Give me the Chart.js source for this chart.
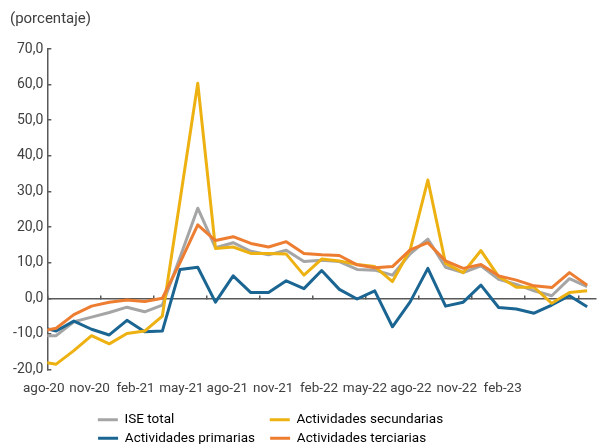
<!DOCTYPE html>
<html>
<head>
<meta charset="utf-8">
<script src="https://cdn.jsdelivr.net/npm/chart.js@4"></script>
<style>
  html, body { margin: 0; padding: 0; background: #fff; }
</style>
</head>
<body>
<canvas id="chart" width="600" height="444"></canvas>
<script>
// meses de la serie (jul-20 queda fuera del eje, solo se ve el trazo cortado)
const months = [
  'jul-20', 'ago-20', 'sep-20', 'oct-20', 'nov-20', 'dic-20', 'ene-21', 'feb-21',
  'mar-21', 'abr-21', 'may-21', 'jun-21', 'jul-21', 'ago-21', 'sep-21', 'oct-21',
  'nov-21', 'dic-21', 'ene-22', 'feb-22', 'mar-22', 'abr-22', 'may-22', 'jun-22',
  'jul-22', 'ago-22', 'sep-22', 'oct-22', 'nov-22', 'dic-22', 'ene-23', 'feb-23'
];
const tickLabels = ['ago-20', 'nov-20', 'feb-21', 'may-21', 'ago-21', 'nov-21',
  'feb-22', 'may-22', 'ago-22', 'nov-22', 'feb-23'];

const iseTotal = [-10.5, -10.5, -6.6, -5.3, -4.0, -2.5, -3.8, -1.9, 11.5, 25.3,
  14.2, 15.6, 13.2, 12.2, 13.5, 10.3, 10.7, 10.3, 8.1, 7.9, 6.5, 12.5, 16.6, 8.7,
  7.2, 9.1, 5.3, 3.9, 2.1, 0.7, 5.5, 3.3];
const primarias = [-8.0, -9.2, -6.4, -8.7, -10.3, -6.2, -9.4, -9.2, 8.1, 8.7,
  -1.1, 6.3, 1.6, 1.6, 4.9, 2.7, 7.8, 2.5, -0.2, 2.1, -8.0, -1.0, 8.4, -2.2,
  -1.1, 3.7, -2.6, -3.0, -4.2, -1.9, 0.7, -2.4];
const secundarias = [-17.7, -18.5, -14.7, -10.5, -12.8, -9.9, -9.2, -5.0, 27.5, 60.4,
  14.0, 14.4, 12.6, 12.6, 12.4, 6.5, 11.0, 10.5, 9.5, 8.9, 4.7, 13.6, 33.2, 9.8,
  7.2, 13.4, 6.1, 3.1, 3.1, -1.4, 1.6, 2.1];
const terciarias = [-9.4, -8.4, -4.6, -2.2, -1.1, -0.5, -0.9, 0.0, 10.0, 20.6,
  16.2, 17.3, 15.4, 14.4, 15.9, 12.6, 12.2, 12.0, 9.4, 8.6, 8.9, 13.6, 15.6, 10.5,
  8.4, 9.5, 6.3, 5.1, 3.5, 3.0, 7.2, 3.7];

const textColor = '#404040';
const axisColor = '#595959';
const fontFamily = 'Roboto';

Chart.defaults.font.family = fontFamily;
Chart.defaults.font.size = 14;
Chart.defaults.color = textColor;

const toPoints = (arr) => arr.map((v, i) => ({ x: i, y: v }));

// marcas del eje x entre meses, cada tres meses
const tickMarks = [];
for (let v = 0.5; v <= months.length - 0.5; v += 3) tickMarks.push(v);

function serie(label, data, color, order) {
  return {
    label: label,
    data: toPoints(data),
    borderColor: color,
    backgroundColor: color,
    borderWidth: 3,
    borderJoinStyle: 'round',
    pointRadius: 0,
    tension: 0,
    order: order,
  };
}

// relleno con espacios para que la leyenda quede en dos columnas
function padLabel(ctx, text, width) {
  let s = text;
  while (ctx.measureText(s + ' ').width <= width) s += ' ';
  while (ctx.measureText(s + '\u200A').width <= width) s += '\u200A';
  return s;
}

const legendOrder = [0, 2, 1, 3];
const legendWidths = [141, 212, 141, 212];
const legendSize = 13.5;

new Chart(document.getElementById('chart'), {
  type: 'line',
  data: {
    datasets: [
      serie('ISE total', iseTotal, '#A5A5A5', 4),
      serie('Actividades primarias', primarias, '#1A6592', 3),
      serie('Actividades secundarias', secundarias, '#EDB111', 2),
      serie('Actividades terciarias', terciarias, '#ED7D31', 1),
    ],
  },
  options: {
    responsive: false,
    animation: false,
    layout: { padding: { left: 10, right: 4, top: 0, bottom: 0 } },
    plugins: {
      tooltip: { enabled: false },
      title: {
        display: true,
        text: '(porcentaje)',
        align: 'start',
        color: textColor,
        font: { size: 15, weight: 'normal' },
        padding: { top: 10.5, bottom: 20.5 },
      },
      legend: {
        position: 'bottom',
        maxHeight: 36,
        labels: {
          boxWidth: 20,
          boxHeight: 3,
          padding: 5,
          color: textColor,
          font: { size: legendSize },
          generateLabels: (chart) => {
            const ctx = chart.ctx;
            ctx.save();
            ctx.font = legendSize + 'px ' + fontFamily;
            const items = legendOrder.map((i, n) => {
              const ds = chart.data.datasets[i];
              return {
                text: padLabel(ctx, ds.label, legendWidths[n]),
                fillStyle: ds.borderColor,
                strokeStyle: ds.borderColor,
                lineWidth: 0,
                hidden: false,
                datasetIndex: i,
              };
            });
            ctx.restore();
            return items;
          },
        },
      },
    },
    scales: {
      x: {
        type: 'linear',
        position: { y: 0 },
        min: 0.5,
        max: months.length - 0.5,
        afterBuildTicks: (s) => { s.ticks = tickMarks.map((v) => ({ value: v })); },
        afterFit: (s) => { s.height = 0; },
        ticks: { display: false },
        grid: { drawOnChartArea: false, drawTicks: true, tickLength: -4, color: axisColor, lineWidth: 1.5 },
        border: { display: true, color: axisColor, width: 1.5 },
      },
      xl: {
        type: 'linear',
        position: 'bottom',
        min: 0.078,
        max: 12.033,
        afterBuildTicks: (s) => { s.ticks = tickLabels.map((_, j) => ({ value: j })); },
        afterFit: (s) => { s.height = 38.5; },
        ticks: {
          autoSkip: false,
          maxRotation: 0,
          padding: 11,
          color: textColor,
          font: { size: 13.5 },
          callback: (v) => tickLabels[v],
        },
        grid: { display: false, drawTicks: false },
        border: { display: false },
      },
      y: {
        min: -20,
        max: 70,
        afterFit: (s) => { s.width = 37.3; },
        ticks: {
          stepSize: 10,
          padding: 8,
          color: textColor,
          font: { size: 14 },
          callback: (v) => v.toFixed(1).replace('.', ','),
        },
        grid: { drawOnChartArea: false, drawTicks: true, tickLength: -4, color: axisColor, lineWidth: 1.5 },
        border: { display: true, color: axisColor, width: 1.5 },
      },
    },
  },
});
</script>
</body>
</html>
